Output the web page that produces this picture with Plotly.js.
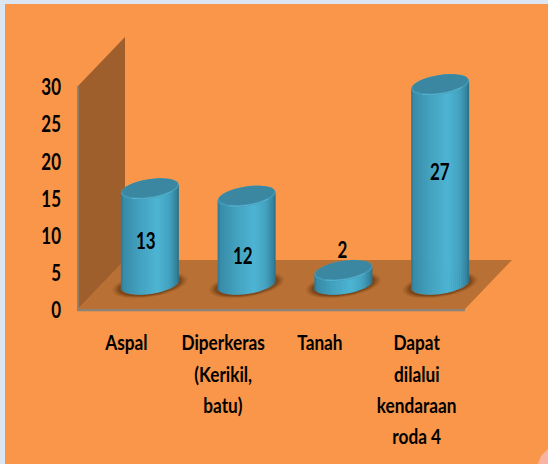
<!DOCTYPE html>
<html>
<head>
<meta charset="utf-8">
<script src="https://cdn.plot.ly/plotly-3.0.1.min.js"></script>
<style>html,body{margin:0;padding:0;background:#dce6f2;overflow:hidden}</style>
</head>
<body>
<div id="chart" style="width:548px;height:464px"></div>
<script>
// ---- data ----
const categories = ["Aspal", "Diperkeras", "Tanah", "Dapat"];
const categoryMoreLines = [[], ["(Kerikil,", "batu)"], [], ["dilalui", "kendaraan", "roda 4"]];
const values = [13, 12, 2, 27];
const yTicks = [0, 5, 10, 15, 20, 25, 30];

// ---- layout geometry (pixels) ----
const W = 548, H = 464;
const frontL = 78, frontR = 465, frontY = 309, topY = 86;
const depthX = 47, depthY = 49;
const midX = 23.5, midY = 23.5;
const unitPx = (frontY - topY) / 30;
const catPx = (frontR - frontL) / 4;
const halfBar = 0.3;
const aPx = halfBar * catPx, bPx = 10, shear = 0.14;
const baseLift = 1.5 / unitPx;
const FONT = 'Lato,"Liberation Sans",sans-serif';
const labelAnchor = [6.1, 4.1, 4.8, 15.3];
const labelDx = [-0.04, -0.04, -0.01, 0];
const lineYs = [343, 373, 404, 435];
const squeezeDigits = 0.77, squeezeWords = 0.82;

const stops = [[-1,[44,118,145]],[-0.9,[56,140,168]],[-0.4,[66,160,190]],[0.25,[78,180,211]],[0.65,[68,163,193]],[0.92,[52,130,157]],[1,[40,105,128]]];
function shade(u){
  for (let i=1;i<stops.length;i++){
    if(u<=stops[i][0]){
      const f=(u-stops[i-1][0])/(stops[i][0]-stops[i-1][0]);
      const c=stops[i-1][1].map((v,k)=>Math.round(v+(stops[i][1][k]-v)*f));
      return `rgb(${c.join(",")})`;
    }
  }
  return "rgb(40,105,128)";
}

const traces = [];
// anchor trace so the main axes exist
traces.push({type:"scatter",x:[0,1,2,3],y:[0,0,0,0],xaxis:"x",yaxis:"y",mode:"none",hoverinfo:"skip",showlegend:false});

// tilted ellipse outlines in data units, one per bar, null separated
function ellipse(levels, scaleA, scaleB, dyPx, part){
  const xs=[], ys=[];
  levels.forEach((lv,k)=>{
    const n=48;
    for(let i=0;i<=n;i++){
      const t = part==="front" ? Math.PI*(0.22+0.5*i/n) : 2*Math.PI*i/n;
      const dx=aPx*scaleA*Math.cos(t);
      const dyDown=bPx*scaleB*Math.sin(t)-shear*dx+dyPx;
      xs.push(k+dx/catPx);
      ys.push(lv-dyDown/unitPx);
    }
    xs.push(null); ys.push(null);
  });
  return {x:xs,y:ys};
}
function filled(levels,sa,sb,dy,color,ax,ay){
  const e=ellipse(levels,sa,sb,dy);
  return {type:"scatter",mode:"lines",x:e.x,y:e.y,xaxis:ax,yaxis:ay,fill:"toself",fillcolor:color,line:{width:0},hoverinfo:"skip",showlegend:false};
}

// contact shadows, on the layer under the bars
const zeros = values.map(()=>baseLift);
[[1.3,1.22,0.08],[1.24,1.16,0.12],[1.17,1.1,0.18],[1.1,1.05,0.25]].forEach(s=>{
  traces.push(filled(zeros,s[0],s[1],1,`rgba(70,32,5,${s[2]})`,"x2","y2"));
});

// cylinder sides: shaded bar strips built from the values
const N = 29, dw = 2*halfBar/N;
for(let i=0;i<N;i++){
  const u=-1+2*(i+0.5)/N;
  const rise=shear*aPx*u/unitPx;
  const low=baseLift+rise-bPx*Math.sqrt(1-u*u)/unitPx;
  traces.push({type:"bar",x:[0,1,2,3],y:values.map(v=>v+rise-low),base:values.map(()=>low),
    width:values.map(()=>i===N-1?dw:dw*1.35),offset:values.map(()=>-halfBar+i*dw),
    xaxis:"x3",yaxis:"y3",marker:{color:shade(u),line:{width:0}},hoverinfo:"skip",showlegend:false});
}

// caps
traces.push(filled(values,1,1,0,"#429ab7","x3","y3"));
traces.push(filled(values,0.96,0.88,-0.9,"#3b86a1","x3","y3"));
const rim=ellipse(values,0.97,0.97,-0.5,"front");
traces.push({type:"scatter",mode:"lines",x:rim.x,y:rim.y,xaxis:"x3",yaxis:"y3",line:{color:"#57b3cf",width:1},hoverinfo:"skip",showlegend:false});

// ---- furniture ----
const px=v=>v/W, py=v=>1-v/H;
function poly(pts,fill,line){
  return {type:"path",xref:"paper",yref:"paper",layer:"below",
    path:"M"+pts.map(p=>px(p[0])+","+py(p[1])).join("L")+"Z",fillcolor:fill,line:line||{width:0}};
}
const shapes=[
  poly([[5,4],[W,4],[W,H],[5,H]],"#f99649"),
  poly([[538,H],[541,456],[548,449],[548,H]],"#f9b3a2"),
  poly([[frontL,frontY],[frontR,frontY],[frontR+depthX,frontY-depthY],[frontL+depthX,frontY-depthY]],"#b97034"),
  poly([[frontL,frontY],[frontL,topY],[frontL+depthX,topY-depthY],[frontL+depthX,frontY-depthY]],"#9e5f2c"),
  poly([[frontL-1,topY],[frontL+0.8,topY],[frontL+0.8,frontY+2],[frontL-1,frontY+2]],"#8c8378"),
  poly([[frontL-1,frontY],[frontR,frontY],[frontR,frontY+2.2],[frontL-1,frontY+2.2]],"#8c8378")
];

const boldFont=(size)=>({family:FONT,size:size,color:"#000",weight:700});
const annotations=[];
values.forEach((v,i)=>annotations.push({xref:"x3",yref:"y3",x:i+labelDx[i],y:labelAnchor[i],text:String(v),showarrow:false,
  font:boldFont(22),xanchor:"center",yanchor:"middle"}));
categoryMoreLines.forEach((lines,i)=>lines.forEach((t,j)=>annotations.push({xref:"x",yref:"paper",x:i,y:py(lineYs[j+1]),text:t,showarrow:false,
  font:boldFont(21),xanchor:"center",yanchor:"middle"})));

const hidden=(extra)=>Object.assign({visible:false,fixedrange:true},extra);
const x2dom=[px(frontL+midX),px(frontR+midX)];
const ydom2=[py(frontY-midY+5*unitPx),py(topY-midY)];
const layout={
  width:W,height:H,margin:{l:0,r:0,t:0,b:0},showlegend:false,barmode:"overlay",
  paper_bgcolor:"#dce6f2",plot_bgcolor:"rgba(0,0,0,0)",
  xaxis:{domain:[px(frontL),px(frontR)],range:[-0.5,3.5],tickmode:"array",tickvals:[0,1,2,3],
    ticktext:categories,showgrid:false,zeroline:false,showline:false,ticks:"",
    tickfont:boldFont(21),ticklabelstandoff:19,anchor:"y"},
  yaxis:{domain:[py(frontY),py(topY)],range:[0,30],tickmode:"array",tickvals:yTicks,ticktext:yTicks.map(String),
    showgrid:false,zeroline:false,showline:false,ticks:"",tickfont:boldFont(22),ticklabelstandoff:16,anchor:"x"},
  xaxis2:hidden({domain:x2dom,range:[-0.5,3.5],anchor:"y2"}),
  yaxis2:hidden({domain:ydom2,range:[-5,30],anchor:"x2"}),
  xaxis3:hidden({domain:x2dom,range:[-0.5,3.5],anchor:"y3"}),
  yaxis3:hidden({domain:ydom2,range:[-5,30],anchor:"x3"}),
  shapes,annotations
};
Plotly.newPlot("chart",traces,layout,{displayModeBar:false,staticPlot:true}).then(()=>{
  // the reference's lettering is condensed: squeeze each label horizontally about its anchor
  const squeezeAll=()=>document.querySelectorAll("#chart .xtick text, #chart .ytick text, #chart .annotation-text").forEach(el=>{
    const len=el.getComputedTextLength();
    if(len>0){
      const digits=/^[0-9]+$/.test(el.textContent);
      el.setAttribute("lengthAdjust","spacingAndGlyphs");
      el.setAttribute("textLength",(len*(digits?squeezeDigits:squeezeWords)).toFixed(2));
      if(el.closest(".ytick")) el.setAttribute("dy","1.5");
    }
  });
  const ready=document.fonts&&document.fonts.ready?document.fonts.ready:Promise.resolve();
  ready.then(squeezeAll);
});
</script>
</body>
</html>
